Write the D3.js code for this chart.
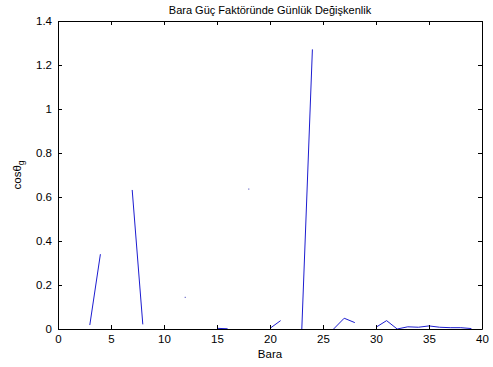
<!DOCTYPE html>
<html>
<head>
<meta charset="utf-8">
<script src="https://cdn.jsdelivr.net/npm/d3@7/dist/d3.min.js"></script>
<style>
  html, body { margin: 0; padding: 0; background: #fff; }
  svg { display: block; font-family: Arial, "Liberation Sans", sans-serif; }
</style>
</head>
<body>
<svg id="chart" width="493" height="367"></svg>
<script>
// bus numbers (Bara) and daily variation of power factor; null = no value (gap)
const buses = d3.range(1, 40);
const variation = [
  null, null, 0.018, 0.34, null, null, 0.632, 0.021, null, null,
  null, 0.144, null, null, 0.003, 0.001, null, 0.636, null, 0.003,
  0.038, null, 0.0, 1.271, null, 0.0, 0.049, 0.029, null, 0.008,
  0.038, 0.0, 0.01, 0.008, 0.014, 0.008, 0.006, 0.006, 0.002
];
const xTicks = [0, 5, 10, 15, 20, 25, 30, 35, 40];
const yTicks = [0, 0.2, 0.4, 0.6, 0.8, 1, 1.2, 1.4];

const titleText = 'Bara Güç Faktöründe Günlük Değişkenlik';
const xLabel = 'Bara';

const margin = { top: 21, right: 11, bottom: 38, left: 58 };
const svg = d3.select('#chart');
const W = +svg.attr('width'), H = +svg.attr('height');
const w = W - margin.left - margin.right;
const h = H - margin.top - margin.bottom;

const x = d3.scaleLinear().domain([0, 40]).range([0, w]);
const y = d3.scaleLinear().domain([0, 1.4]).range([h, 0]);

const g = svg.append('g').attr('transform', `translate(${margin.left},${margin.top})`);

const points = buses.map((b, i) => ({ b, v: variation[i] }));

// line with gaps
const line = d3.line()
  .defined(d => d.v != null)
  .x(d => x(d.b))
  .y(d => y(d.v));

g.append('path')
  .datum(points)
  .attr('fill', 'none')
  .attr('stroke', '#1c1cd0')
  .attr('stroke-width', 1)
  .attr('d', line);

// isolated values (neighbours missing) show up only as a tiny dot
const isolated = points.filter((d, i) => d.v != null &&
  (i === 0 || points[i - 1].v == null) &&
  (i === points.length - 1 || points[i + 1].v == null));
g.selectAll('rect.dot')
  .data(isolated)
  .join('rect')
  .attr('class', 'dot')
  .attr('x', d => x(d.b) - 0.5)
  .attr('y', d => y(d.v) - 0.5)
  .attr('width', 1)
  .attr('height', 1)
  .attr('fill', '#2a2ab0');

// axes (ticks inside, box on)
const fmt = d => String(+d.toFixed(1));
const tickLen = 4;

g.append('g').attr('transform', `translate(0,${h})`)
  .call(d3.axisBottom(x).tickValues(xTicks).tickSizeInner(-tickLen).tickSizeOuter(0).tickPadding(6).tickFormat(d3.format('d')));
g.append('g')
  .call(d3.axisTop(x).tickValues(xTicks).tickSizeInner(-tickLen).tickSizeOuter(0).tickFormat(''));
g.append('g')
  .call(d3.axisLeft(y).tickValues(yTicks).tickSizeInner(-tickLen).tickSizeOuter(0).tickPadding(6).tickFormat(fmt));
g.append('g').attr('transform', `translate(${w},0)`)
  .call(d3.axisRight(y).tickValues(yTicks).tickSizeInner(-tickLen).tickSizeOuter(0).tickFormat(''));

g.selectAll('.domain').attr('stroke', '#000');
g.selectAll('.tick line').attr('stroke', '#000');
g.selectAll('.tick text').attr('font-size', 11.5).attr('fill', '#000')
  .attr('font-family', 'Arial, "Liberation Sans", sans-serif');

// title
svg.append('text')
  .attr('x', margin.left + w / 2)
  .attr('y', 14)
  .attr('text-anchor', 'middle')
  .attr('font-size', 11)
  .text(titleText);

// x label
svg.append('text')
  .attr('x', margin.left + w / 2)
  .attr('y', 358)
  .attr('text-anchor', 'middle')
  .attr('font-size', 11.5)
  .text(xLabel);

// y label cosθ_g
const yl = svg.append('text')
  .attr('transform', `translate(21,${margin.top + h / 2}) rotate(-90)`)
  .attr('text-anchor', 'middle')
  .attr('font-size', 11.5);
yl.append('tspan').text('cosθ');
yl.append('tspan').attr('font-size', 8.5).attr('dy', 3).text('g');
</script>
</body>
</html>
